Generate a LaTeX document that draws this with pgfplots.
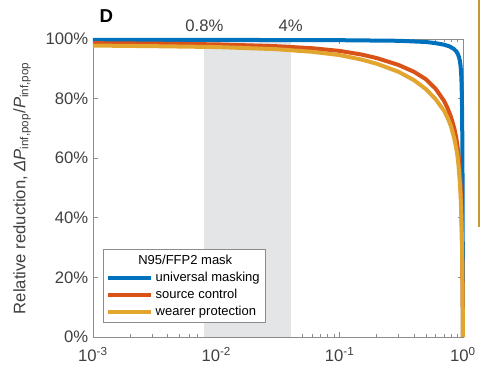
\documentclass[border=0pt]{standalone}
\usepackage{pgfplots}
\pgfplotsset{compat=1.18}
\usepackage{fontspec}
\setmainfont{Liberation Sans}
\definecolor{mblue}{RGB}{0,114,189}
\definecolor{mred}{RGB}{217,83,25}
\definecolor{myel}{RGB}{226,166,48}
\definecolor{shade}{RGB}{228,229,231}
\definecolor{txt}{RGB}{64,64,64}
\definecolor{gold}{RGB}{196,152,50}
\begin{document}
\begin{tikzpicture}
\path[use as bounding box] (0,0) rectangle (360.75pt,282pt);
\draw[gold, line width=1.5pt] (359.6pt,282pt) -- (359.6pt,112pt);
\begin{axis}[
  at={(69.75pt,29.25pt)}, anchor=south west,
  scale only axis, width=277.5pt, height=223.5pt,
  xmode=log, xmin=1e-3, xmax=1, ymin=0, ymax=100,
  clip=false,
  axis line style={draw=gray!90, line width=0.6pt},
  every tick/.style={gray!90, line width=0.5pt},
  tick align=inside, xtick pos=both, ytick pos=both,
  major tick length=4pt, minor tick length=2.5pt,
  xtick={0.001,0.01,0.1,1},
  xticklabels={10\textsuperscript{-3},10\textsuperscript{-2},10\textsuperscript{-1},10\textsuperscript{0}},
  xticklabel style={yshift=-4.5pt},
  ytick={0,20,40,60,80,100},
  yticklabels={0\%,20\%,40\%,60\%,80\%,100\%},
  ticklabel style={font=\fontsize{12.5}{15}\selectfont, text=txt},
  ylabel={Relative reduction, \textit{ΔP}\textsubscript{inf,pop}/\textit{P}\textsubscript{inf,pop}},
  ylabel style={font=\fontsize{12.5}{15}\selectfont, text=txt, at={(axis description cs:0,0.5)}, anchor=center, yshift=53.25pt},
  legend style={draw=gray!90, fill=white, line width=0.5pt,
    font=\fontsize{9.75}{11.5}\selectfont,
    at={(axis description cs:0,0)}, anchor=south west, xshift=7.75pt, yshift=10.5pt,
    inner xsep=2pt, inner ysep=2pt, row sep=0.2pt},
  legend cell align=left,
  legend image code/.code={\draw[#1] (0pt,0pt) -- (32pt,0pt);},
]
\addlegendimage{empty legend}
\addlegendentry{\hspace*{-13pt}N95/FFP2 mask}
\addplot[fill=shade, draw=none, forget plot] coordinates {(0.008,0) (0.008,100) (0.04,100) (0.04,0)} -- cycle;
\addplot[mblue, line width=3pt, line join=round] coordinates {
(0.001,99.7) (0.01,99.7) (0.1,99.6) (0.3,99.4) (0.5,99.0) (0.6,98.6) (0.7,98.1) (0.78,97.5) (0.84,96.7) (0.88,95.9) (0.91,94.9) (0.93,93.8) (0.945,92.5) (0.955,91.0) (0.963,89.3) (0.97,87.0) (0.976,83.5) (0.981,78.5) (0.985,72) (0.988,64) (0.991,54) (0.994,40) (0.997,22) (1.0,0)};
\addlegendentry{universal masking}
\addplot[mred, line width=3pt, line join=round] coordinates {
(0.001,98.6) (0.003,98.45) (0.01,98.2) (0.03,97.6) (0.06,96.9) (0.1,96.0) (0.15,94.8) (0.2,93.6) (0.3,91.3) (0.4,89) (0.5,86.5) (0.6,83.3) (0.7,79.3) (0.75,76.8) (0.8,73.8) (0.85,70) (0.88,67) (0.9,64.5) (0.92,61) (0.94,56) (0.955,51) (0.965,46) (0.975,39) (0.982,32) (0.988,24) (0.993,15) (0.997,7) (1,0)};
\addlegendentry{source control}
\addplot[myel, line width=3pt, line join=round] coordinates {
(0.001,97.8) (0.003,97.6) (0.01,97.3) (0.03,96.6) (0.06,95.7) (0.1,94.6) (0.15,93.1) (0.2,91.7) (0.3,89) (0.4,86.2) (0.5,83.2) (0.6,79.8) (0.7,76) (0.75,73.6) (0.8,70.6) (0.85,66.6) (0.88,63.5) (0.9,61) (0.92,57.5) (0.94,52.5) (0.955,48) (0.965,43.5) (0.975,37) (0.982,30.5) (0.988,23) (0.993,14.5) (0.997,6.5) (1,0)};
\addlegendentry{wearer protection}
\node[font=\fontsize{12.5}{15}\selectfont, text=txt] at (axis cs:0.008,100) [yshift=9.75pt] {0.8\%};
\node[font=\fontsize{12.5}{15}\selectfont, text=txt] at (axis cs:0.04,100) [yshift=9.75pt] {4\%};
\node[font=\fontsize{14}{16}\selectfont\bfseries] at (axis description cs:0,1) [xshift=10pt, yshift=17pt] {D};
\end{axis}
\end{tikzpicture}
\end{document}
